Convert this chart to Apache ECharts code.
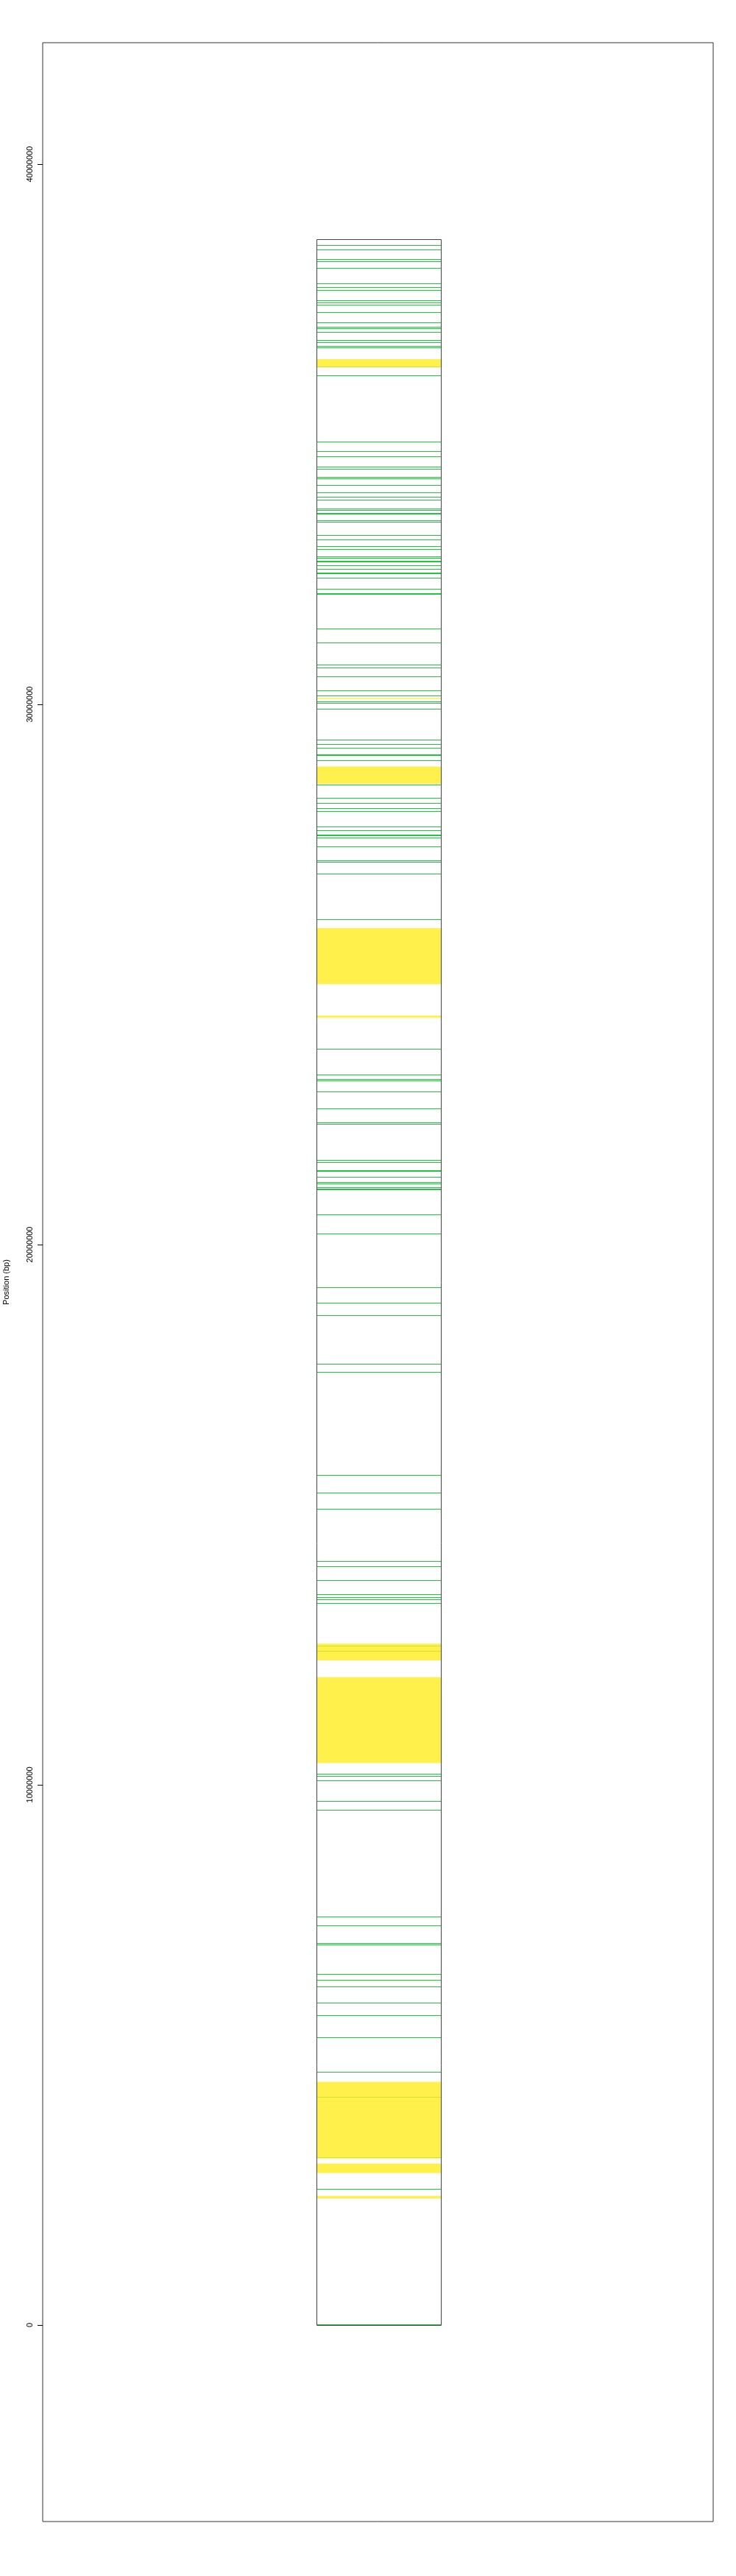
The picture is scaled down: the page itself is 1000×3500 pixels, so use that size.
<!DOCTYPE html>
<html><head><meta charset="utf-8">
<script src="https://cdn.jsdelivr.net/npm/echarts@6/dist/echarts.min.js"></script>
<style>html,body{margin:0;padding:0;background:#fff}#c{width:1000px;height:3500px}</style>
</head><body><div id="c"></div>
<script>
const chromLength = 38610000;
const tickValues = [0, 10000000, 20000000, 30000000, 40000000];
const greenLinesMb = [38.50,38.42,38.24,38.20,38.08,37.79,37.72,37.67,37.48,37.44,37.40,37.26,37.07,36.99,36.96,36.89,36.74,36.70,36.63,36.61,36.25,36.09,
34.86,34.69,34.59,34.40,34.36,34.21,34.18,34.06,33.92,33.84,33.79,33.62,33.60,33.55,33.53,33.41,33.38,33.13,33.05,32.93,32.87,32.74,32.71,32.66,32.64,32.58,32.51,32.44,32.42,
32.34,32.14,32.06,32.04,31.40,31.14,30.74,30.68,30.52,30.26,30.16,30.06,30.03,29.92,29.35,29.26,29.20,
29.08,29.06,28.96,28.52,28.27,28.17,28.08,28.02,27.74,27.67,27.59,27.57,27.53,27.37,27.11,27.08,26.87,26.02,
23.62,23.15,23.06,23.04,22.83,
22.52,22.26,22.23,21.57,21.53,21.38,21.36,21.25,21.16,21.13,21.06,21.04,21.02,20.56,20.20,
19.21,18.92,18.69,17.79,17.64,
15.74,15.41,15.11,14.14,14.05,13.79,13.53,13.47,13.43,13.37,
12.57,12.48,10.20,10.16,10.08,9.70,9.54,
7.56,7.40,7.07,7.04,6.50,6.39,6.27,
5.97,5.74,5.33,4.69,4.22,3.11,2.52,0.01];
const yellowBandsMb = [[36.24,36.39],[30.10,30.12],[28.53,28.85],[24.82,25.86],[24.20,24.24],[12.30,12.61],[10.40,11.99],[3.08,4.50],[2.81,2.99],[2.34,2.39]];

const BAR_X0 = 0.408, BAR_X1 = 0.594;
const chart = echarts.init(document.getElementById('c'), null, {renderer: 'canvas'});
function xs(api) {
  return [Math.round(api.coord([BAR_X0, 0])[0]) + 0.5, Math.round(api.coord([BAR_X1, 0])[0]) + 0.5];
}
const option = {
  animation: false,
  backgroundColor: '#fff',
  grid: {left: 58, right: 31, top: 58, bottom: 74, show: true, borderColor: '#333', borderWidth: 1,
    backgroundColor: 'transparent', outerBoundsMode: 'none', containLabel: false},
  xAxis: {type: 'value', min: 0, max: 1, show: false},
  yAxis: {
    type: 'value', min: -3640000, max: 42250000,
    name: 'Position (bp)', nameLocation: 'middle', nameRotate: 90, nameGap: 44,
    nameTextStyle: {fontSize: 11, color: '#000', fontFamily: 'Liberation Sans'},
    axisLine: {show: false}, splitLine: {show: false},
    axisTick: {show: true, customValues: tickValues, length: 7, lineStyle: {color: '#000'}},
    axisLabel: {customValues: tickValues, rotate: 90, margin: 12, fontSize: 11, color: '#000', fontFamily: 'Liberation Sans',
      align: 'center', verticalAlign: 'bottom', formatter: v => String(v)}
  },
  series: [
    {
      type: 'custom', name: 'lines', data: greenLinesMb.map(v => [v * 1e6]),
      encode: {y: 0}, dimensions: ['pos'],
      renderItem: (params, api) => {
        const y = Math.round(api.coord([0, api.value(0)])[1]) + 0.5;
        const [x0, x1] = xs(api);
        return {type: 'line', shape: {x1: x0, y1: y, x2: x1, y2: y}, style: {stroke: '#1ec83c', lineWidth: 1}};
      }
    },
    {
      type: 'custom', name: 'bands', data: yellowBandsMb.map(b => [b[0] * 1e6, b[1] * 1e6]),
      encode: {y: [0, 1]}, dimensions: ['start', 'end'],
      renderItem: (params, api) => {
        const yTop = api.coord([0, api.value(1)])[1];
        const yBot = api.coord([0, api.value(0)])[1];
        const [x0, x1] = xs(api);
        return {type: 'rect', shape: {x: x0, y: yTop, width: x1 - x0, height: Math.max(1, yBot - yTop)},
          style: {fill: 'rgba(255,236,30,0.8)'}};
      }
    },
    {
      type: 'custom', name: 'chromosome', data: [[0, chromLength]],
      encode: {y: [0, 1]}, dimensions: ['start', 'end'],
      renderItem: (params, api) => {
        const yTop = Math.round(api.coord([0, api.value(1)])[1]) + 0.5;
        const yBot = Math.round(api.coord([0, api.value(0)])[1]) + 0.5;
        const [x0, x1] = xs(api);
        return {type: 'rect', shape: {x: x0, y: yTop, width: x1 - x0, height: yBot - yTop},
          style: {fill: 'none', stroke: '#444', lineWidth: 1}};
      }
    }
  ]
};
chart.setOption(option);
</script></body></html>
